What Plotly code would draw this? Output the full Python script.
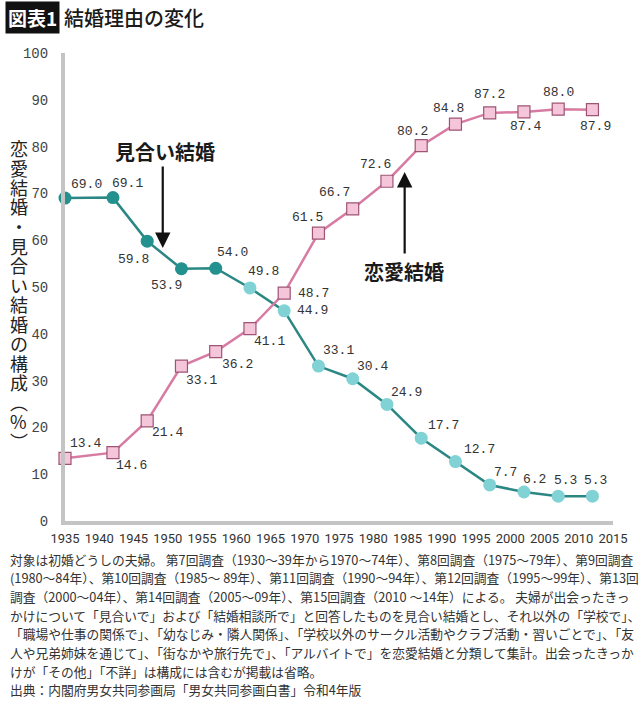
import plotly.graph_objects as go

years = [1935, 1942, 1947, 1952, 1957, 1962, 1967, 1972, 1977, 1982, 1987, 1992, 1997, 2002, 2007, 2012]
love = [13.4, 14.6, 21.4, 33.1, 36.2, 41.1, 48.7, 61.5, 66.7, 72.6, 80.2, 84.8, 87.2, 87.4, 88.0, 87.9]
arranged = [69.0, 69.1, 59.8, 53.9, 54.0, 49.8, 44.9, 33.1, 30.4, 24.9, 17.7, 12.7, 7.7, 6.2, 5.3, 5.3]
x_ticks = list(range(1935, 2016, 5))
y_ticks = list(range(0, 101, 10))

# label offsets (pixels, right / down) from each point
love_dx = [20, 19, 20, 20, 22, 20, 29, -11, -18, -11, -9, -7, 0, 2, 0, 3]
love_dy = [-15, 13, 12, 14, 13, 13, 0, -16, -16, -17, -14, -16, -18, 15, -17, 17]
arr_dx = [21, 15, -14, -15, 17, 14, 28, 20, 20, 20, 22, 24, 16, 11, 7, 3]
arr_dy = [-14, -14, 18, 17, -16, -16, 0, -16, -12, -12, -13, -12, -12, -12, -16, -16]

W, H = 640, 702
L, R, T, B = 65, 20, 53, 181
PW, PH = W - L - R, H - T - B


def fx(p):
    return (p - L) / PW


def fy(p):
    return (H - B - p) / PH


TEAL_LINE = "#2a8783"
TEAL_DARK = "#23918d"
TEAL_LIGHT = "#80d2d4"
PINK_LINE = "#d87ba3"
PINK_FILL = "#f5c5d9"
PINK_EDGE = "#9e5474"
MONO = "Liberation Mono, DejaVu Sans Mono, monospace"
JP = "Noto Sans CJK JP, sans-serif"

fig = go.Figure()
teal_colors = [TEAL_DARK if y < 1960 else TEAL_LIGHT for y in years]
fig.add_trace(go.Scatter(
    x=years, y=arranged, mode="lines+markers",
    line=dict(color=TEAL_LINE, width=2.5),
    marker=dict(symbol="circle", size=13, color=teal_colors, line=dict(width=0)),
    cliponaxis=False, showlegend=False, hoverinfo="skip",
))
fig.add_trace(go.Scatter(
    x=years, y=love, mode="lines+markers",
    line=dict(color=PINK_LINE, width=2.5),
    marker=dict(symbol="square", size=12, color=PINK_FILL, line=dict(width=1.2, color=PINK_EDGE)),
    cliponaxis=False, showlegend=False, hoverinfo="skip",
))

ann = []
lab_font = dict(family=MONO, size=13, color="#333333")
for yr, v, dx, dy in zip(years, arranged, arr_dx, arr_dy):
    ann.append(dict(xref="x", yref="y", x=yr, y=v, text=f"{v:.1f}", showarrow=False,
                    xshift=dx, yshift=-dy, xanchor="center", yanchor="middle", font=lab_font))
for yr, v, dx, dy in zip(years, love, love_dx, love_dy):
    ann.append(dict(xref="x", yref="y", x=yr, y=v, text=f"{v:.1f}", showarrow=False,
                    xshift=dx, yshift=-dy, xanchor="center", yanchor="middle", font=lab_font))

# title
ann.append(dict(xref="paper", yref="paper", x=fx(4), y=fy(17), xanchor="left", yanchor="middle",
                text="<b>図表1</b>", showarrow=False, bgcolor="#111111", borderpad=2,
                font=dict(family=JP, size=19, color="white")))
ann.append(dict(xref="paper", yref="paper", x=fx(62), y=fy(17), xanchor="left", yanchor="middle",
                text="結婚理由の変化", showarrow=False,
                font=dict(family=JP, size=20, color="#1a1a1a", weight=500)))

# vertical y-axis title
ytitle = list("恋愛結婚・見合い結婚の構成") + ["︵", "%", "︶"]
y0 = 148
for i, ch in enumerate(ytitle):
    ann.append(dict(xref="paper", yref="paper", x=fx(18), y=fy(y0 + i * 19.5),
                    xanchor="center", yanchor="middle", text=ch, showarrow=False,
                    font=dict(family=JP, size=18, color="#222222")))

# series labels with arrows
ann.append(dict(xref="paper", yref="paper", x=fx(166), y=fy(151), xanchor="center", yanchor="middle",
                text="<b>見合い結婚</b>", showarrow=False, font=dict(family=JP, size=20, color="#1a1a1a")))
ann.append(dict(xref="paper", yref="paper", x=fx(164), y=fy(248), text="", showarrow=True,
                ax=0, ay=-83, arrowhead=2, arrowsize=1.4, arrowwidth=2.2, arrowcolor="#111111"))
ann.append(dict(xref="paper", yref="paper", x=fx(408), y=fy(271), xanchor="center", yanchor="middle",
                text="<b>恋愛結婚</b>", showarrow=False, font=dict(family=JP, size=20, color="#1a1a1a")))
ann.append(dict(xref="paper", yref="paper", x=fx(409), y=fy(172), text="", showarrow=True,
                ax=0, ay=83, arrowhead=2, arrowsize=1.4, arrowwidth=2.2, arrowcolor="#111111"))

notes = [
    "対象は初婚どうしの夫婦。 第7回調査（1930～39年から1970～74年）、第8回調査（1975～79年）、第9回調査",
    "(1980～84年）、第10回調査（1985～ 89年）、第11回調査（1990～94年）、第12回調査（1995～99年）、第13回",
    "調査（2000～04年）、第14回調査（2005～09年）、第15回調査（2010 ～14年）による。 夫婦が出会ったきっ",
    "かけについて「見合いで」および「結婚相談所で」と回答したものを見合い結婚とし、それ以外の「学校で」、",
    "「職場や仕事の関係で」、「幼なじみ・隣人関係」、「学校以外のサークル活動やクラブ活動・習いごとで」、「友",
    "人や兄弟姉妹を通じて」、「街なかや旅行先で」、「アルバイトで」を恋愛結婚と分類して集計。出会ったきっか",
    "けが「その他」「不詳」は構成には含むが掲載は省略。",
    "出典：内閣府男女共同参画局「男女共同参画白書」令和4年版",
]
for i, line in enumerate(notes):
    ann.append(dict(xref="paper", yref="paper", x=fx(7), y=fy(559 + i * 18.7), xanchor="left",
                    yanchor="middle", text=line, showarrow=False,
                    font=dict(family=JP, size=12.75, color="#333333")))

fig.update_layout(
    width=W, height=H, margin=dict(l=L, r=R, t=T, b=B, pad=0),
    paper_bgcolor="white", plot_bgcolor="white",
    annotations=ann,
    xaxis=dict(range=[1935, 2015], tickvals=x_ticks, ticktext=[str(v) for v in x_ticks],
               showgrid=False, zeroline=False, showline=True, linecolor="#c4c4c4", linewidth=4,
               ticks="", tickfont=dict(family="Roboto, sans-serif", size=13, color="#333333"),
               ticklabelstandoff=2),
    yaxis=dict(range=[0, 100], tickvals=y_ticks, showgrid=False, zeroline=False, showline=True,
               linecolor="#c4c4c4", linewidth=4, ticks="",
               tickfont=dict(family=MONO, size=14, color="#444444"), ticklabelstandoff=10),
)

fig.write_html("out.html")
